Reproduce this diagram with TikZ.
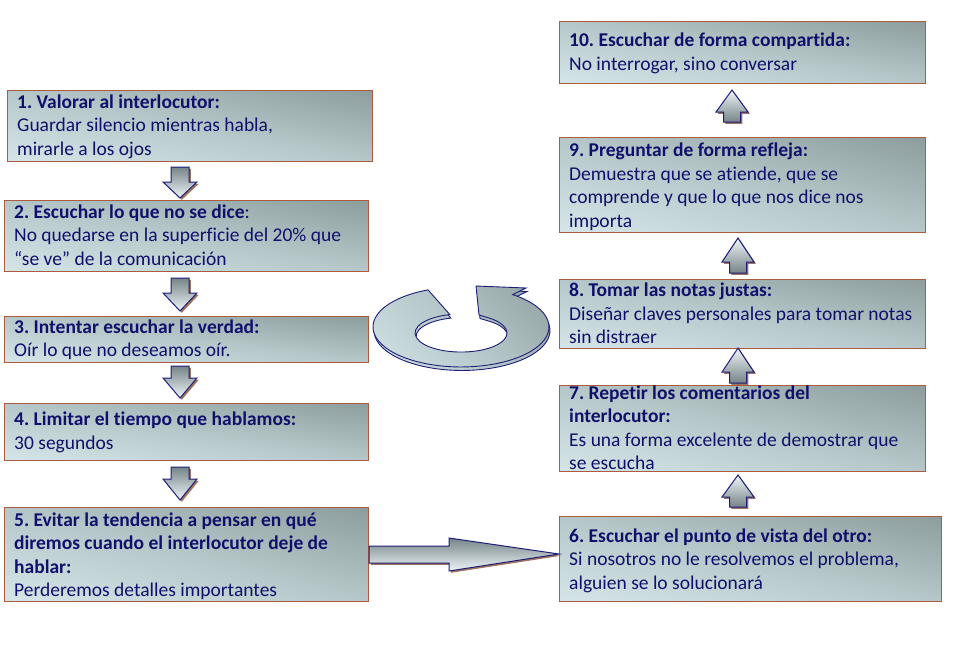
\documentclass[tikz,border=0pt]{standalone}
\usepackage{fontspec}
\setmainfont{Carlito}[Ligatures={TeX,NoCommon}]
\definecolor{boxdark}{RGB}{124,140,140}
\definecolor{boxmid}{RGB}{182,199,201}
\definecolor{boxlight}{RGB}{226,242,244}
\definecolor{bordc}{RGB}{172,92,60}
\definecolor{navyc}{RGB}{16,16,108}
\definecolor{arrline}{RGB}{30,30,120}
\definecolor{arrdark}{RGB}{118,132,136}
\definecolor{arrlight}{RGB}{238,245,247}
\definecolor{shadowc}{RGB}{160,115,95}
\pgfdeclareverticalshading{boxsh}{100bp}{color(0bp)=(boxlight); color(50bp)=(boxmid); color(100bp)=(boxdark)}
\tikzset{
  box/.style={draw=bordc, line width=1pt, anchor=north west, inner sep=0pt},
  txt/.style={anchor=north west, inner sep=0pt, align=left, text=navyc, font=\fontsize{19.5}{23.5}\selectfont},
  arrst/.style={draw=arrline, line width=1pt, line join=miter},
  shad/.style={fill=shadowc, draw=none},
  ringst/.style={draw=arrline, line width=0.9pt, shading=boxsh, shading angle=-45},
}
\newcommand\mkbox[5]{%
  \begin{scope}[transform canvas={shift={(#2,#3)}, xscale=(#4-#2)/100, yscale=(#5-#3)/100}]
    \shade[shading=boxsh, shading angle=-45] (0,0) rectangle (100,100);
  \end{scope}
  \node[box, minimum width=#4-#2, minimum height=#5-#3] (#1) at (#2,#3) {};}
% down arrow: cx, ytop, yhead, ytip
\newcommand\dnarr[4]{%
  \path[shad, shift={(1.8,1.8)}] (#1-9,#2) -- (#1+9,#2) -- (#1+9,#3) -- (#1+17,#3) -- (#1,#4) -- (#1-17,#3) -- (#1-9,#3) -- cycle;
  \draw[arrst, top color=arrdark, bottom color=arrlight] (#1-9,#2) -- (#1+9,#2) -- (#1+9,#3) -- (#1+17,#3) -- (#1,#4) -- (#1-17,#3) -- (#1-9,#3) -- cycle;}
% up arrow: cx, ytip, yhead, ybottom
\newcommand\uparr[4]{%
  \path[shad, shift={(1.8,1.8)}] (#1,#2) -- (#1+16,#3) -- (#1+8.5,#3) -- (#1+8.5,#4) -- (#1-8.5,#4) -- (#1-8.5,#3) -- (#1-16,#3) -- cycle;
  \draw[arrst, top color=arrlight, bottom color=arrdark] (#1,#2) -- (#1+16,#3) -- (#1+8.5,#3) -- (#1+8.5,#4) -- (#1-8.5,#4) -- (#1-8.5,#3) -- (#1-16,#3) -- cycle;}
\frenchspacing
\begin{document}
\begin{tikzpicture}[x=1pt, y=-1pt]
\useasboundingbox (0,0) rectangle (955,649);
% boxes
\mkbox{b1}{7}{90}{372}{161}
\mkbox{b2}{4}{200}{368}{271}
\mkbox{b3}{4}{316}{368}{362}
\mkbox{b4}{4}{403}{368}{460}
\mkbox{b5}{4}{507}{368}{601}
\mkbox{b6}{559}{516}{941}{601}
\mkbox{b7}{559}{385}{925}{471}
\mkbox{b8}{559}{279}{925}{348}
\mkbox{b9}{559}{137}{925}{232}
\mkbox{b10}{559}{21}{925}{83}
% texts
\node[txt] (t1) at (17,91) {\rule{0pt}{17pt}\textbf{1. Valorar al interlocutor:}\\Guardar silencio mientras habla,\\mirarle a los ojos};
\node[txt] (t2) at (14,201) {\rule{0pt}{17pt}\textbf{2. Escuchar lo que no se dice}:\\No quedarse en la superficie del 20\% que\\“se ve” de la comunicación};
\node[txt] (t3) at (14,316) {\rule{0pt}{17pt}\textbf{3. Intentar escuchar la verdad:}\\Oír lo que no deseamos oír.};
\node[txt] (t4) at (14,408.5) {\rule{0pt}{17pt}\textbf{4. Limitar el tiempo que hablamos:}\\30 segundos};
\node[txt] (t5) at (14,509) {\rule{0pt}{17pt}\textbf{5. Evitar la tendencia a pensar en qué}\\\textbf{diremos cuando el interlocutor deje de}\\\textbf{hablar:}\\Perderemos detalles importantes};
\node[txt] (t6) at (569,525) {\rule{0pt}{17pt}\textbf{6. Escuchar el punto de vista del otro:}\\Si nosotros no le resolvemos el problema,\\alguien se lo solucionará};
\node[txt] (t7) at (569,382) {\rule{0pt}{17pt}\textbf{7. Repetir los comentarios del}\\\textbf{interlocutor:}\\Es una forma excelente de demostrar que\\se escucha};
\node[txt] (t8) at (569,279.7) {\rule{0pt}{17pt}\textbf{8. Tomar las notas justas:}\\Diseñar claves personales para tomar notas\\sin distraer};
\node[txt] (t9) at (569,139.7) {\rule{0pt}{17pt}\textbf{9. Preguntar de forma refleja:}\\Demuestra que se atiende, que se\\comprende y que lo que nos dice nos\\importa};
\node[txt] (t10) at (569,29.7) {\rule{0pt}{17pt}\textbf{10. Escuchar de forma compartida:}\\No interrogar, sino conversar};
% down arrows
\dnarr{180}{167}{182}{198}
\dnarr{180}{278}{293}{311}
\dnarr{180}{366}{378}{398}
\dnarr{180}{467}{479}{500}
% up arrows
\uparr{732}{90}{112}{122}
\uparr{738}{238}{262}{273}
\uparr{738}{348}{372}{383}
\uparr{738}{475}{497}{507}
% big right arrow
\path[shad, shift={(1.8,1.8)}] (369,546) -- (449,546) -- (449,538) -- (559,554) -- (449,571) -- (449,563) -- (369,563) -- cycle;
\draw[arrst, top color=arrdark, bottom color=arrlight] (369,546) -- (449,546) -- (449,538) -- (559,554) -- (449,571) -- (449,563) -- (369,563) -- cycle;
% circular arrow (3D)
\draw[ringst, shift={(1,3.5)}] (512.7,294.6) arc[start angle=-54, end angle=248, x radius=88, y radius=40] -- (449.9,314.6) arc[start angle=256, end angle=-55, x radius=46, y radius=19] -- (479,315) -- (476,286) -- (526,288) -- cycle;
\draw[ringst] (512.7,294.6) arc[start angle=-54, end angle=248, x radius=88, y radius=40] -- (449.9,314.6) arc[start angle=256, end angle=-55, x radius=46, y radius=19] -- (479,315) -- (476,286) -- (526,288) -- cycle;
\end{tikzpicture}
\end{document}
